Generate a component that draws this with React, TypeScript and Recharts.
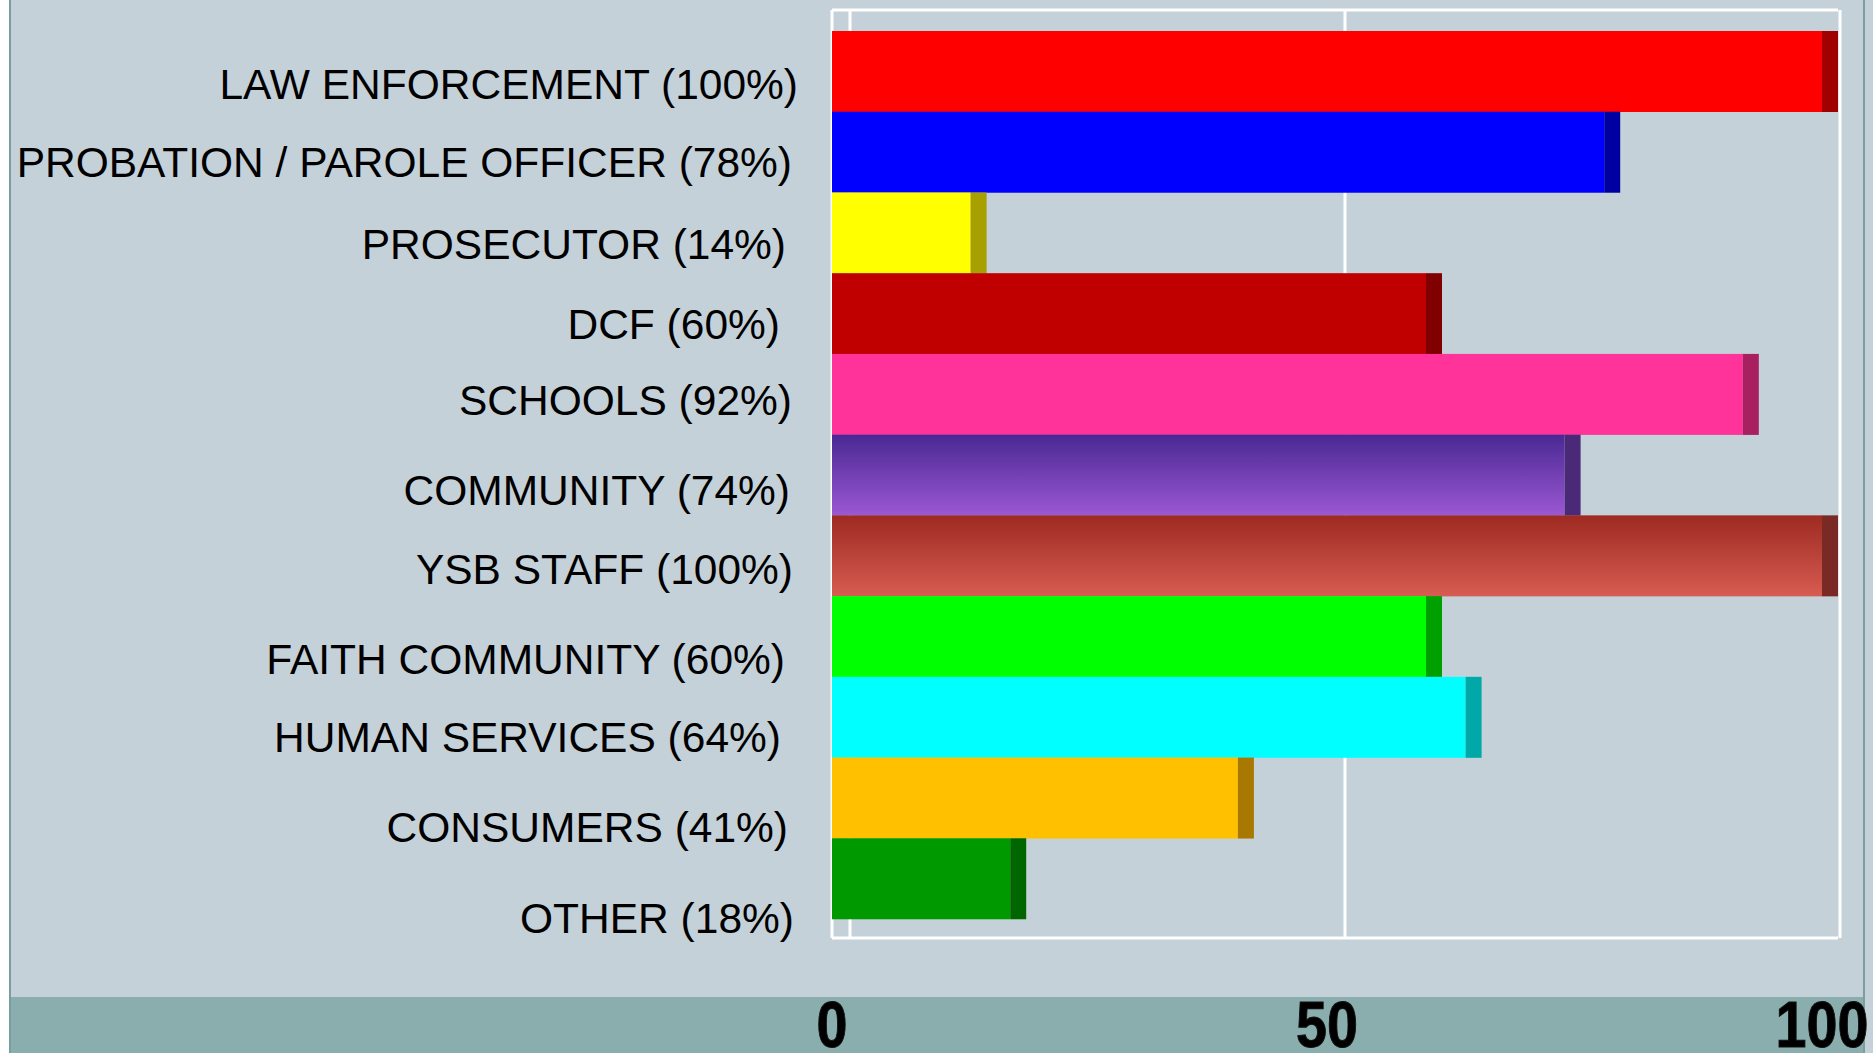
import * as React from "react"
import { Bar, BarChart, CartesianGrid, XAxis, YAxis } from "recharts"

const categories = [
  "LAW ENFORCEMENT (100%)",
  "PROBATION / PAROLE OFFICER (78%)",
  "PROSECUTOR (14%)",
  "DCF (60%)",
  "SCHOOLS (92%)",
  "COMMUNITY (74%)",
  "YSB STAFF (100%)",
  "FAITH COMMUNITY (60%)",
  "HUMAN SERVICES (64%)",
  "CONSUMERS (41%)",
  "OTHER (18%)",
]

const values = [100, 78, 14, 60, 92, 74, 100, 60, 64, 41, 18]

const xTicks = [0, 50, 100]

// front face colours, then the darker 3D side
const faceColors = [
  "#ff0000",
  "#0000ff",
  "#ffff00",
  "#c00000",
  "#ff3399",
  "url(#gradCommunity)",
  "url(#gradYsb)",
  "#00ff00",
  "#00ffff",
  "#ffc000",
  "#009900",
]

const sideColors = [
  "#a00000",
  "#0000a0",
  "#a8a000",
  "#800000",
  "#a8205f",
  "#4a2a78",
  "#7a2a25",
  "#00a000",
  "#00a8a8",
  "#a87800",
  "#006600",
]

// small nudges so labels sit like the original
const labelNudgeY = [12, 10, 11, 10, 5, 15, 13, 22, 20, 29, 39]
const labelNudgeX = [0, -6, -12, -18, -6, -8, -5, -13, -17, -10, -4]

const DEPTH = 16
const BG = "#c5d1d8"
const BAND = "#8aadad"
const EDGE = "#7a9e9e"

const chartData = categories.map((name, i) => ({
  name,
  value: values[i],
  face: faceColors[i],
  side: sideColors[i],
}))

// works with either a plain d3 scale or the v3 scale wrapper
const toPixel = (xAxis: any, offset: any) => {
  const s = xAxis?.scale
  if (typeof s === "function") return (v: number) => s(v)
  if (s && typeof s.map === "function") return (v: number) => s.map(v)
  return (v: number) => offset.left + (v / 100) * offset.width
}

const BarShape = (props: any) => {
  const { x, y, width, height, payload } = props
  if (width == null || height == null) return null
  return (
    <g>
      <rect x={x} y={y} width={width} height={height} fill={payload.face} />
      <rect x={x + width} y={y} width={DEPTH} height={height} fill={payload.side} />
    </g>
  )
}

const CategoryTick = (props: any) => {
  const { x, y, payload, index } = props
  return (
    <text
      x={x - 26 + (labelNudgeX[index] ?? 0)}
      y={y + (labelNudgeY[index] ?? 0)}
      dy="0.36em"
      textAnchor="end"
      fontFamily="'Liberation Sans', Arial, sans-serif"
      fontSize={42.5}
      fill="#000"
    >
      {payload.value}
    </text>
  )
}

const ValueTick = (props: any) => {
  const { x, y, payload } = props
  return (
    <g transform={`translate(${x},${y + 128}) scale(0.87,1)`}>
      <text
        x={0}
        y={0}
        textAnchor="middle"
        fontFamily="'Liberation Sans', Arial, sans-serif"
        fontWeight="bold"
        fontSize={64}
        fill="#000"
        stroke="#111"
        strokeWidth={1}
      >
        {payload.value}
      </text>
    </g>
  )
}

export default function App() {
  return (
    <div style={{ position: "absolute", left: 0, top: 0, width: 1873, height: 1053, background: BG, overflow: "hidden" }}>
      <div style={{ position: "absolute", left: 0, top: 0, width: 9, height: 1053, background: "#fff" }} />
      <div style={{ position: "absolute", left: 9, top: 0, width: 2, height: 1053, background: EDGE }} />
      <div style={{ position: "absolute", left: 1863, top: 0, width: 2, height: 1053, background: EDGE }} />
      <div style={{ position: "absolute", left: 11, top: 997, width: 1852, height: 56, background: BAND }} />
      <div style={{ position: "absolute", left: 0, top: 0 }}>
        <BarChart
          width={1873}
          height={1053}
          data={chartData}
          layout="vertical"
          barCategoryGap={0}
          margin={{ top: 31, right: 51, bottom: 34, left: 0 }}
        >
          <defs>
            <linearGradient id="gradCommunity" x1="0" y1="0" x2="0" y2="1">
              <stop offset="0%" stopColor="#4a2893" />
              <stop offset="100%" stopColor="#9b58d3" />
            </linearGradient>
            <linearGradient id="gradYsb" x1="0" y1="0" x2="0" y2="1">
              <stop offset="0%" stopColor="#9e2a22" />
              <stop offset="100%" stopColor="#d75c51" />
            </linearGradient>
          </defs>
          <CartesianGrid
            x={832}
            y={10}
            width={1006}
            height={928}
            stroke="#ffffff"
            strokeWidth={3}
            strokeOpacity={1}
            verticalCoordinatesGenerator={({ xAxis, offset }: any) => {
              const px = toPixel(xAxis, offset)
              return [px(0), ...xTicks.map((t) => px(t) + DEPTH + 2)]
            }}
            horizontalCoordinatesGenerator={() => [10, 938]}
          />
          <XAxis
            type="number"
            domain={[0, 100]}
            ticks={xTicks}
            interval={0}
            height={100}
            tickSize={0}
            tickMargin={0}
            axisLine={false}
            tickLine={false}
            tick={<ValueTick />}
          />
          <YAxis
            type="category"
            dataKey="name"
            width={832}
            interval={0}
            axisLine={false}
            tickLine={false}
            tick={<CategoryTick />}
          />
          <Bar dataKey="value" shape={<BarShape />} isAnimationActive={false} />
        </BarChart>
      </div>
    </div>
  )
}
